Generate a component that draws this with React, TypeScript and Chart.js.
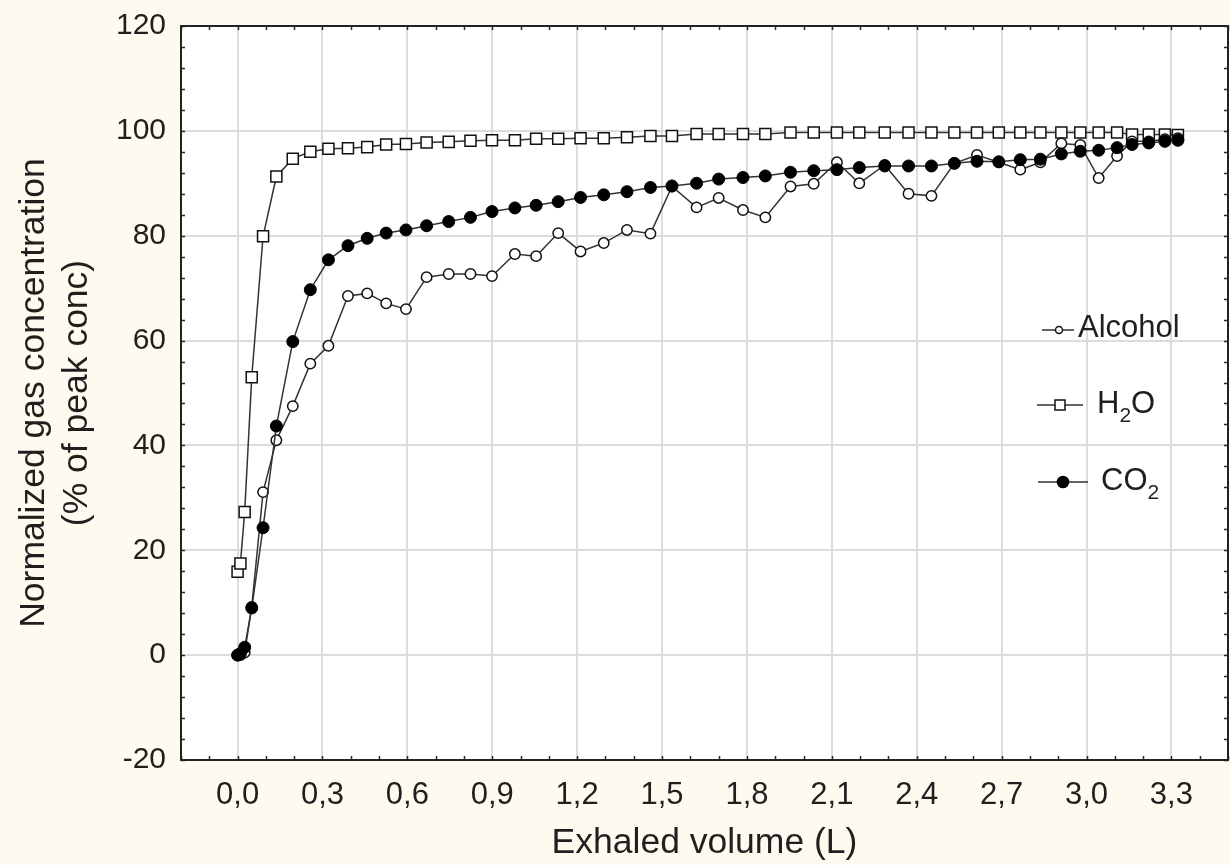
import React, { useEffect, useRef } from 'react';
import { Chart, registerables } from 'chart.js';

Chart.register(...registerables);

// ---------- data ----------
const volumeL = [
  0.0, 0.01, 0.025, 0.05, 0.09, 0.137, 0.195, 0.257, 0.321, 0.39, 0.458, 0.525, 0.595, 0.668, 0.746,
  0.823, 0.899, 0.98, 1.055, 1.133, 1.212, 1.294, 1.376, 1.459, 1.535, 1.622, 1.7, 1.786, 1.865,
  1.954, 2.036, 2.118, 2.197, 2.287, 2.371, 2.452, 2.533, 2.613, 2.69, 2.766, 2.837, 2.911, 2.978,
  3.043, 3.108, 3.161, 3.22, 3.277, 3.323,
];

const alcohol = [
  0, 0, 0.5, 9.2, 31.1, 41.0, 47.5, 55.6, 59.0, 68.5, 69.0, 67.1, 66.0, 72.1, 72.7, 72.7, 72.3,
  76.5, 76.1, 80.5, 77.0, 78.6, 81.1, 80.4, 89.4, 85.4, 87.2, 84.9, 83.5, 89.4, 89.9, 94.0, 90.0,
  93.5, 88.0, 87.6, 93.8, 95.4, 94.0, 92.6, 94.0, 97.6, 97.3, 91.0, 95.2, 98.0, 98.0, 98.4, 98.6,
];

const h2o = [
  15.9, 17.5, 27.3, 53.0, 79.9, 91.3, 94.7, 96.0, 96.6, 96.7, 96.9, 97.4, 97.5, 97.8, 97.9, 98.1,
  98.2, 98.2, 98.5, 98.5, 98.6, 98.6, 98.8, 99.0, 99.0, 99.4, 99.4, 99.4, 99.4, 99.7, 99.7, 99.7,
  99.7, 99.7, 99.7, 99.7, 99.7, 99.7, 99.7, 99.7, 99.7, 99.7, 99.7, 99.7, 99.7, 99.3, 99.3, 99.3, 99.2,
];

const co2 = [
  0, 0.3, 1.5, 9.0, 24.3, 43.7, 59.8, 69.7, 75.4, 78.1, 79.5, 80.5, 81.1, 81.9, 82.7, 83.5, 84.6,
  85.3, 85.8, 86.5, 87.3, 87.8, 88.4, 89.2, 89.5, 90.0, 90.8, 91.1, 91.4, 92.1, 92.4, 92.6, 93.0,
  93.3, 93.3, 93.3, 93.8, 94.2, 94.1, 94.5, 94.6, 95.6, 96.1, 96.3, 96.8, 97.4, 97.7, 98.0, 98.2,
];

const xTickValues = [0.0, 0.3, 0.6, 0.9, 1.2, 1.5, 1.8, 2.1, 2.4, 2.7, 3.0, 3.3];
const xTickLabels = ['0,0', '0,3', '0,6', '0,9', '1,2', '1,5', '1,8', '2,1', '2,4', '2,7', '3,0', '3,3'];
const yTickValues = [-20, 0, 20, 40, 60, 80, 100, 120];

const xTitle = 'Exhaled volume (L)';
const yTitle = ['Normalized gas concentration', '(% of peak conc)'];

const seriesNames = ['Alcohol', 'H₂O', 'CO₂'];

// ---------- styling ----------
const FONT = "'Liberation Sans', Arial, Helvetica, sans-serif";
const TEXT = '#1f1f1f';
const LINE = '#333333';

const pts = (ys: number[]) => ys.map((y, i) => ({ x: volumeL[i], y }));

export default function App() {
  const ref = useRef<HTMLCanvasElement>(null);

  useEffect(() => {
    const canvas = ref.current;
    if (!canvas) return;

    const decor = {
      id: 'decor',
      beforeDraw(chart: any) {
        const { ctx, chartArea: a } = chart;
        ctx.save();
        ctx.fillStyle = '#ffffff';
        ctx.fillRect(a.left, a.top, a.right - a.left, a.bottom - a.top);
        ctx.restore();
      },
      beforeDatasetsDraw(chart: any) {
        const { ctx, chartArea: a, scales } = chart;
        const xs = scales.x;
        const ys = scales.y;
        ctx.save();
        ctx.strokeStyle = '#2a2a2a';
        ctx.lineWidth = 1.5;
        ctx.beginPath();
        const tl = 4;
        for (let k = -2; k <= 35; k++) {
          const px = Math.round(xs.getPixelForValue(k / 10)) + 0.5;
          ctx.moveTo(px, a.bottom);
          ctx.lineTo(px, a.bottom - tl);
          ctx.moveTo(px, a.top);
          ctx.lineTo(px, a.top + tl);
        }
        for (let v = -20; v <= 120; v += 4) {
          const py = Math.round(ys.getPixelForValue(v)) + 0.5;
          ctx.moveTo(a.left, py);
          ctx.lineTo(a.left + tl, py);
          ctx.moveTo(a.right, py);
          ctx.lineTo(a.right - tl, py);
        }
        ctx.stroke();
        ctx.lineWidth = 2;
        ctx.strokeStyle = '#222';
        ctx.strokeRect(a.left, a.top, a.right - a.left, a.bottom - a.top);
        ctx.restore();
      },
      afterDraw(chart: any) {
        const { ctx } = chart;
        ctx.save();
        ctx.strokeStyle = LINE;
        ctx.lineWidth = 1.5;
        ctx.fillStyle = TEXT;
        ctx.textBaseline = 'middle';
        ctx.textAlign = 'left';

        // Alcohol
        let y = 330;
        ctx.beginPath();
        ctx.moveTo(1042, y);
        ctx.lineTo(1074, y);
        ctx.stroke();
        ctx.beginPath();
        ctx.arc(1059, y, 3.5, 0, Math.PI * 2);
        ctx.fillStyle = '#fff';
        ctx.fill();
        ctx.strokeStyle = '#111';
        ctx.stroke();
        ctx.fillStyle = TEXT;
        ctx.font = `31px ${FONT}`;
        ctx.fillText(seriesNames[0], 1078, 328);

        // H2O
        y = 405;
        ctx.strokeStyle = LINE;
        ctx.beginPath();
        ctx.moveTo(1037, y);
        ctx.lineTo(1083, y);
        ctx.stroke();
        ctx.fillStyle = '#fff';
        ctx.fillRect(1055, y - 5, 10, 10);
        ctx.strokeStyle = '#111';
        ctx.strokeRect(1055, y - 5, 10, 10);
        ctx.fillStyle = TEXT;
        ctx.font = `31px ${FONT}`;
        let x = 1097;
        ctx.fillText('H', x, 404);
        x += ctx.measureText('H').width;
        ctx.font = `21px ${FONT}`;
        ctx.fillText('2', x, 416);
        x += ctx.measureText('2').width;
        ctx.font = `31px ${FONT}`;
        ctx.fillText('O', x, 404);

        // CO2
        y = 482;
        ctx.strokeStyle = LINE;
        ctx.beginPath();
        ctx.moveTo(1038, y);
        ctx.lineTo(1088, y);
        ctx.stroke();
        ctx.beginPath();
        ctx.arc(1063, y, 6.3, 0, Math.PI * 2);
        ctx.fillStyle = '#000';
        ctx.fill();
        ctx.fillStyle = TEXT;
        ctx.font = `31px ${FONT}`;
        x = 1101;
        ctx.fillText('C', x, 481);
        x += ctx.measureText('C').width;
        ctx.fillText('O', x, 481);
        x += ctx.measureText('O').width;
        ctx.font = `21px ${FONT}`;
        ctx.fillText('2', x, 493);
        ctx.restore();
      },
    };

    const chart = new Chart(canvas, {
      type: 'line',
      data: {
        datasets: [
          {
            label: seriesNames[2],
            data: pts(co2),
            order: 0,
            borderColor: LINE,
            borderWidth: 1.5,
            pointStyle: 'circle',
            pointRadius: 6,
            pointBackgroundColor: '#000',
            pointBorderColor: '#000',
            pointBorderWidth: 1,
            tension: 0,
          },
          {
            label: seriesNames[0],
            data: pts(alcohol),
            order: 1,
            borderColor: LINE,
            borderWidth: 1.5,
            pointStyle: 'circle',
            pointRadius: 5.2,
            pointBackgroundColor: '#fff',
            pointBorderColor: '#111',
            pointBorderWidth: 1.5,
            tension: 0,
          },
          {
            label: seriesNames[1],
            data: pts(h2o),
            order: 2,
            borderColor: LINE,
            borderWidth: 1.5,
            pointStyle: 'rect',
            pointRadius: 7.8,
            pointBackgroundColor: '#fff',
            pointBorderColor: '#111',
            pointBorderWidth: 1.5,
            tension: 0,
          },
        ],
      },
      options: {
        responsive: false,
        animation: false,
        devicePixelRatio: 1,
        layout: { autoPadding: false, padding: { top: 26, right: 2, left: 0, bottom: 0 } },
        plugins: {
          legend: { display: false },
          tooltip: { enabled: false },
          title: { display: false },
        },
        scales: {
          x: {
            type: 'linear',
            min: -0.2,
            max: 3.5,
            afterFit(scale: any) {
              scale.height = 105;
              scale.paddingLeft = 0;
              scale.paddingRight = 0;
            },
            afterBuildTicks(scale: any) {
              scale.ticks = xTickValues.map((v) => ({ value: v }));
            },
            ticks: {
              autoSkip: false,
              maxRotation: 0,
              padding: 17,
              color: TEXT,
              font: { family: FONT, size: 31 },
              callback: (_v: any, i: number) => xTickLabels[i],
            },
            grid: { color: '#dcdcdc', lineWidth: 2, drawTicks: false },
            border: { display: false },
            title: {
              display: true,
              text: xTitle,
              color: TEXT,
              font: { family: FONT, size: 35.5 },
              padding: { top: 0, bottom: 0 },
            },
          },
          y: {
            type: 'linear',
            min: -20,
            max: 120,
            afterFit(scale: any) {
              scale.width = 181;
              scale.paddingTop = 0;
              scale.paddingBottom = 0;
            },
            afterBuildTicks(scale: any) {
              scale.ticks = yTickValues.map((v) => ({ value: v }));
            },
            ticks: {
              autoSkip: false,
              padding: 15,
              color: TEXT,
              font: { family: FONT, size: 30 },
            },
            grid: { color: '#dcdcdc', lineWidth: 2, drawTicks: false },
            border: { display: false },
            title: {
              display: true,
              text: yTitle,
              color: TEXT,
              font: { family: FONT, size: 35.5 },
              padding: { top: 13, bottom: 0 },
            },
          },
        },
      },
      plugins: [decor],
    });

    return () => chart.destroy();
  }, []);

  return (
    <div
      style={{
        position: 'absolute',
        left: 0,
        top: 0,
        width: 1230,
        height: 865,
        background: '#fffaf0',
        overflow: 'hidden',
      }}
    >
      <canvas ref={ref} width={1230} height={865} style={{ display: 'block' }} />
    </div>
  );
}
